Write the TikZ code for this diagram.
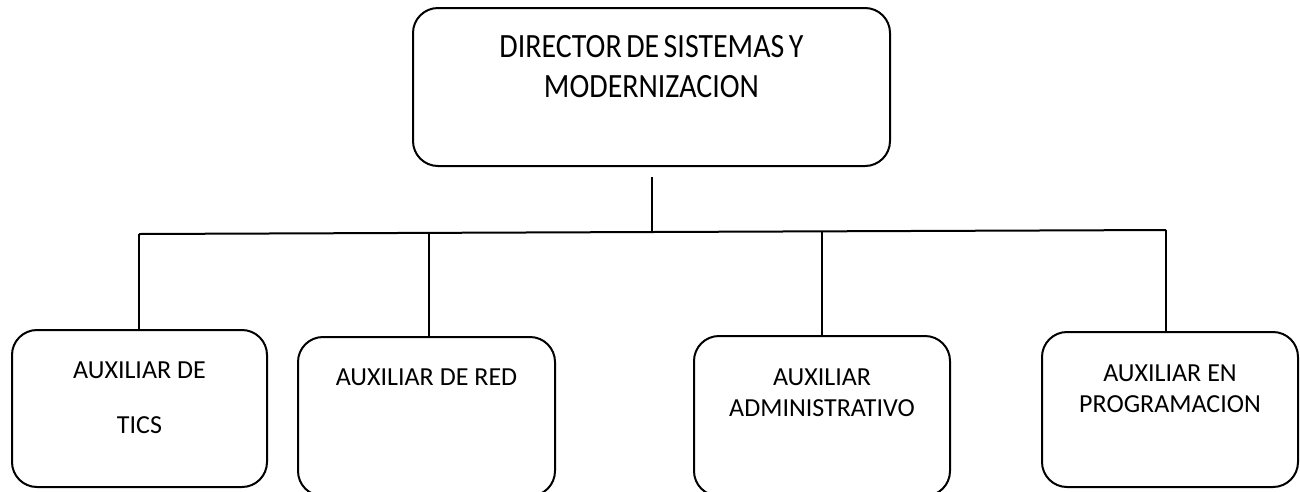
\documentclass[tikz,border=0pt]{standalone}
\usepackage{fontspec}
\setmainfont{Carlito}
\newfontfamily\dirfont[FakeStretch=0.88]{Carlito}
\usetikzlibrary{positioning}

\begin{document}
\begin{tikzpicture}[x=1pt, y=-1pt, line width=2pt,
	cargo/.style={rectangle, draw, rounded corners=25pt, inner sep=0pt, align=center, anchor=north, font=\fontsize{26pt}{31.5pt}\selectfont, execute at begin node={\spaceskip=6pt\relax}}]
	\useasboundingbox (0,0) rectangle (1300,491);
	\clip (0,0) rectangle (1300,491);
	\node at (651.5,7) [cargo, text width=477pt, text height=49pt, text depth=109pt, font=\dirfont\fontsize{34pt}{40pt}\selectfont, execute at begin node={\spaceskip=4.5pt\relax}] (dir) {DIRECTOR DE SISTEMAS Y\\MODERNIZACION};
	\node at (139.5,329) [cargo, text width=255pt, text height=48pt, text depth=109pt] (tics) {AUXILIAR DE\\[24pt]TICS};
	\node at (426.5,336) [cargo, text width=257pt, text height=48pt, text depth=111pt] (red) {AUXILIAR DE RED};
	\node at (822,335) [cargo, text width=256pt, text height=49pt, text depth=111pt] (adm) {AUXILIAR\\ADMINISTRATIVO};
	\node at (1170,331) [cargo, text width=256pt, text height=49pt, text depth=106pt] (prog) {AUXILIAR EN\\PROGRAMACION};
	% linea de mando
	\coordinate (stub) at (652,177);
	\coordinate (busm) at (652,232);
	\coordinate (j1) at (139,234);
	\coordinate (j2) at (429,233);
	\coordinate (j3) at (822,231.5);
	\coordinate (j4) at (1166,230);
	\draw (stub) -- (busm);
	\draw (j1) -- (j4);
	\draw (j1) -- (j1 |- tics.north);
	\draw (j2) -- (j2 |- red.north);
	\draw (j3) -- (j3 |- adm.north);
	\draw (j4) -- (j4 |- prog.north);
\end{tikzpicture}
\end{document}
